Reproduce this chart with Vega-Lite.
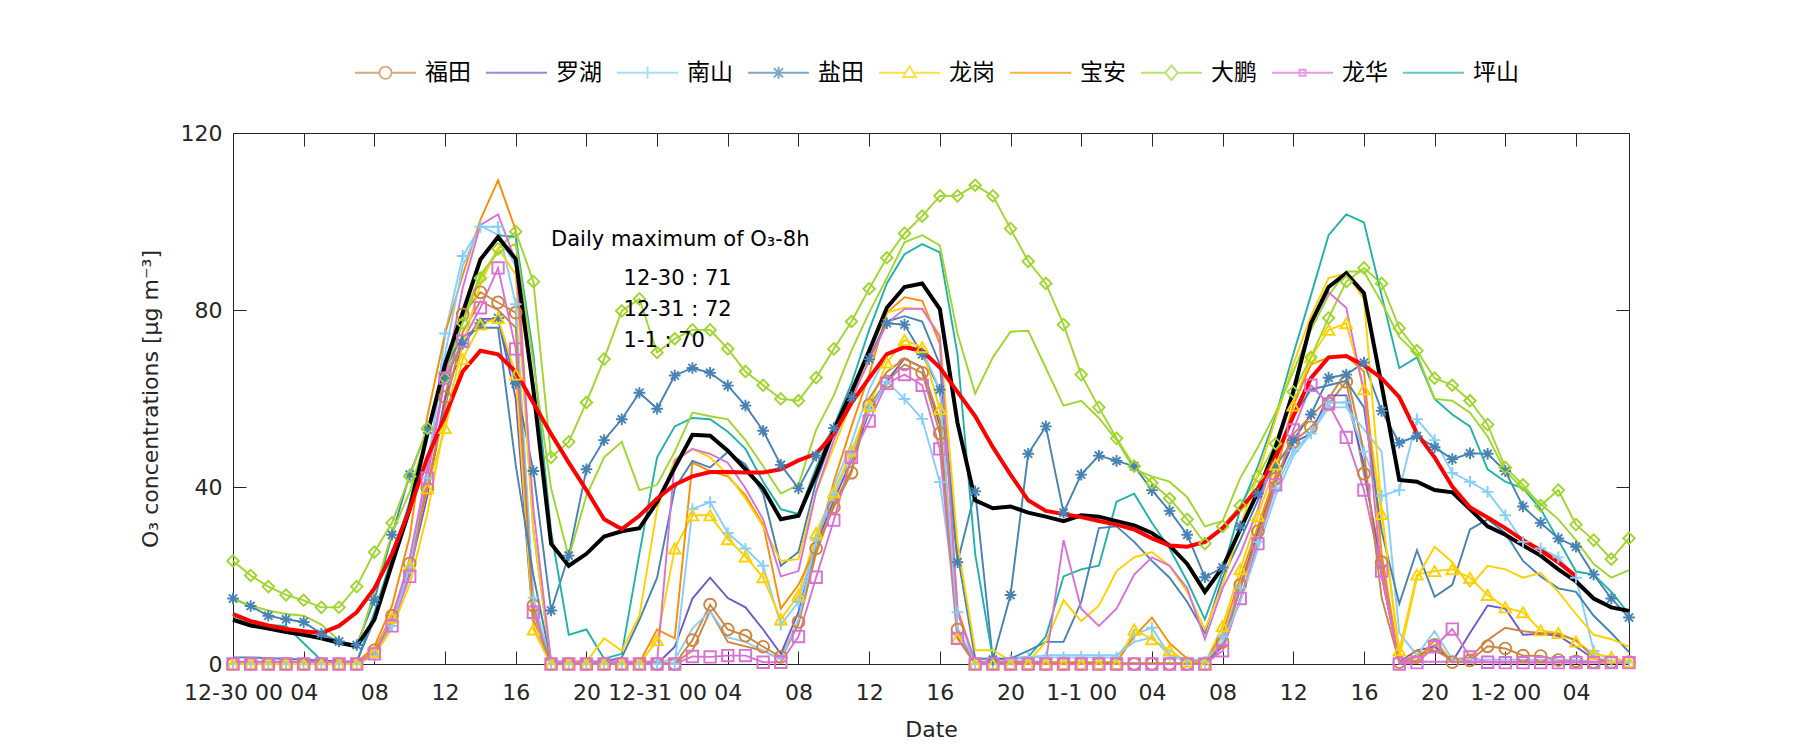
{
  "$schema": "https://vega.github.io/schema/vega-lite/v6.json",
  "width": 1396,
  "height": 531,
  "autosize": {"type": "none"},
  "padding": {"left": 233, "top": 133, "right": 171, "bottom": 86},
  "background": "white",
  "config": {
    "view": {"stroke": "#262626", "strokeWidth": 1},
    "font": "DejaVu Sans",
    "axis": {"labelFont": "DejaVu Sans", "labelFontSize": 22, "labelColor": "#262626", "titleFont": "DejaVu Sans", "titleFontSize": 22, "titleFontWeight": "normal", "titleColor": "#262626", "domain": false, "grid": false, "tickColor": "#262626", "tickSize": -13, "tickWidth": 1, "labelFlush": false, "labelOverlap": false, "labelBound": false}
  },
  "data": {"values": [
    {"h":0,"福田":0,"罗湖":0,"南山":0,"盐田":14.8,"龙岗":0,"宝安":0.3,"大鹏":23.3,"龙华":0,"坪山":10.9,"福田2":0.2,"南山2":0.5,"盐田2":1.5,"龙岗2":0,"大鹏2":14.8,"龙华2":0.5,"平均":10,"O3_8h":11.3},
    {"h":1,"福田":0,"罗湖":0,"南山":0,"盐田":13.1,"龙岗":0,"宝安":0.3,"大鹏":20,"龙华":0,"坪山":9.3,"福田2":0.2,"南山2":0.5,"盐田2":1.5,"龙岗2":0,"大鹏2":13.2,"龙华2":0.5,"平均":8.7,"O3_8h":9.7},
    {"h":2,"福田":0,"罗湖":0,"南山":0,"盐田":10.9,"龙岗":0,"宝安":0.3,"大鹏":17.5,"龙华":0,"坪山":8.8,"福田2":0.2,"南山2":0.5,"盐田2":1.3,"龙岗2":0,"大鹏2":12.1,"龙华2":0.5,"平均":8,"O3_8h":8.7},
    {"h":3,"福田":0,"罗湖":0,"南山":0,"盐田":10.1,"龙岗":0,"宝安":0.3,"大鹏":15.6,"龙华":0,"坪山":8.6,"福田2":0.2,"南山2":0.5,"盐田2":1.2,"龙岗2":0,"大鹏2":11.3,"龙华2":0.5,"平均":7.2,"O3_8h":7.9},
    {"h":4,"福田":0,"罗湖":0,"南山":0,"盐田":9.5,"龙岗":0,"宝安":0.3,"大鹏":14.4,"龙华":0,"坪山":4.7,"福田2":0.2,"南山2":0.5,"盐田2":1,"龙岗2":0,"大鹏2":10.9,"龙华2":0.5,"平均":6.6,"O3_8h":7.4},
    {"h":5,"福田":0,"罗湖":0,"南山":0,"盐田":6.8,"龙岗":0,"宝安":0.3,"大鹏":12.8,"龙华":0,"坪山":0.8,"福田2":0.2,"南山2":0.5,"盐田2":0.8,"龙岗2":0,"大鹏2":8.9,"龙华2":0.5,"平均":5.8,"O3_8h":7},
    {"h":6,"福田":0,"罗湖":0,"南山":0,"盐田":5.1,"龙岗":0,"宝安":0.3,"大鹏":12.8,"龙华":0,"坪山":0.4,"福田2":0.2,"南山2":0.5,"盐田2":0.6,"龙岗2":0,"大鹏2":5.4,"龙华2":0.5,"平均":4.8,"O3_8h":8.6},
    {"h":7,"福田":0,"罗湖":0,"南山":0,"盐田":4.3,"龙岗":0,"宝安":0.3,"大鹏":17.5,"龙华":0,"坪山":0.4,"福田2":0.2,"南山2":0.5,"盐田2":0.5,"龙岗2":0,"大鹏2":3.5,"龙华2":0.5,"平均":4,"O3_8h":11.7},
    {"h":8,"福田":3.1,"罗湖":2,"南山":1.9,"盐田":14.4,"龙岗":2.7,"宝安":3.9,"大鹏":25.3,"龙华":2.3,"坪山":11.7,"福田2":2.5,"南山2":2,"盐田2":10,"龙岗2":2,"大鹏2":16.3,"龙华2":2,"平均":10,"O3_8h":17.1},
    {"h":9,"福田":10.9,"罗湖":9,"南山":8.6,"盐田":29.2,"龙岗":10.5,"宝安":13.2,"大鹏":31.9,"龙华":8.6,"坪山":24.1,"福田2":10,"南山2":9,"盐田2":22.6,"龙岗2":8,"大鹏2":29.6,"龙华2":10,"平均":22.6,"O3_8h":24.9},
    {"h":10,"福田":22.7,"罗湖":21,"南山":21.8,"盐田":42.8,"龙岗":22.2,"宝安":28.8,"大鹏":42.4,"龙华":19.8,"坪山":36.6,"福田2":22,"南山2":22,"盐田2":36.6,"龙岗2":18,"大鹏2":38.9,"龙华2":24,"平均":35,"O3_8h":35},
    {"h":11,"福田":39.7,"罗湖":38,"南山":42,"盐田":53,"龙岗":39.7,"宝安":56,"大鹏":53.3,"龙华":42,"坪山":52.9,"福田2":40,"南山2":45,"盐田2":52,"龙岗2":34,"大鹏2":52.1,"龙华2":44,"平均":52,"O3_8h":46.7},
    {"h":12,"福田":60.3,"罗湖":60,"南山":74.7,"盐田":64.6,"龙岗":53.3,"宝安":74.7,"大鹏":64.6,"龙华":64.6,"坪山":67.7,"福田2":58,"南山2":70,"盐田2":67,"龙岗2":55,"大鹏2":66.1,"龙华2":65,"平均":67.7,"O3_8h":56},
    {"h":13,"福田":79,"罗湖":72,"南山":92.2,"盐田":72.4,"龙岗":68.9,"宝安":87.9,"大鹏":77,"龙华":73,"坪山":79.4,"福田2":75,"南山2":90,"盐田2":74,"龙岗2":72,"大鹏2":78,"龙华2":85,"平均":79.4,"O3_8h":66.1},
    {"h":14,"福田":84,"罗湖":78,"南山":98.8,"盐田":77,"龙岗":76.7,"宝安":100.4,"大鹏":87.2,"龙华":80.5,"坪山":91,"福田2":82,"南山2":99,"盐田2":76,"龙岗2":86,"大鹏2":88,"龙华2":99.2,"平均":91.4,"O3_8h":70.8},
    {"h":15,"福田":81.7,"罗湖":78,"南山":98.8,"盐田":78.2,"龙岗":78.2,"宝安":109.3,"大鹏":93.8,"龙华":89.5,"坪山":96.9,"福田2":80,"南山2":97,"盐田2":76,"龙岗2":94,"大鹏2":93,"龙华2":101.6,"平均":96.5,"O3_8h":70},
    {"h":16,"福田":79.4,"罗湖":60,"南山":81.3,"盐田":63.4,"龙岗":65.4,"宝安":98,"大鹏":97.7,"龙华":71.2,"坪山":96.5,"福田2":76,"南山2":90,"盐田2":45,"龙岗2":88,"大鹏2":95,"龙华2":91,"平均":91.5,"O3_8h":66},
    {"h":17,"福田":13.2,"罗湖":8,"南山":15,"盐田":43.6,"龙岗":7.8,"宝安":30,"大鹏":86.4,"龙华":11.7,"坪山":70,"福田2":10,"南山2":30,"盐田2":20,"龙岗2":30,"大鹏2":68,"龙华2":35,"平均":62,"O3_8h":59},
    {"h":18,"福田":0,"罗湖":0,"南山":0,"盐田":12.1,"龙岗":0,"宝安":0.3,"大鹏":46.7,"龙华":0,"坪山":30,"福田2":0.2,"南山2":0.5,"盐田2":0.5,"龙岗2":0.5,"大鹏2":39.7,"龙华2":0.5,"平均":27.2,"O3_8h":52},
    {"h":19,"福田":0,"罗湖":0,"南山":0,"盐田":24.5,"龙岗":0,"宝安":0.3,"大鹏":50.2,"龙华":0,"坪山":6.6,"福田2":0.2,"南山2":0.5,"盐田2":0.5,"龙岗2":0.5,"大鹏2":24.1,"龙华2":0.5,"平均":22.2,"O3_8h":45.5},
    {"h":20,"福田":0,"罗湖":0,"南山":0,"盐田":44,"龙岗":0,"宝安":0.3,"大鹏":59.1,"龙华":0,"坪山":7.8,"福田2":0.2,"南山2":0.5,"盐田2":0.5,"龙岗2":0.5,"大鹏2":38,"龙华2":0.5,"平均":24.9,"O3_8h":39.3},
    {"h":21,"福田":0,"罗湖":0,"南山":0,"盐田":50.6,"龙岗":0,"宝安":0.3,"大鹏":68.9,"龙华":0,"坪山":1.2,"福田2":0.2,"南山2":0.5,"盐田2":0.5,"龙岗2":5.8,"大鹏2":46.7,"龙华2":0.5,"平均":28.8,"O3_8h":32.7},
    {"h":22,"福田":0,"罗湖":0,"南山":0,"盐田":55.3,"龙岗":0,"宝安":0.3,"大鹏":79.8,"龙华":0,"坪山":2.3,"福田2":0.2,"南山2":0.5,"盐田2":1.5,"龙岗2":3,"大鹏2":50.2,"龙华2":0.5,"平均":30,"O3_8h":30.5},
    {"h":23,"福田":0,"罗湖":0,"南山":0,"盐田":61.3,"龙岗":0,"宝安":0.3,"大鹏":82.5,"龙华":0,"坪山":25,"福田2":0.2,"南山2":0.5,"盐田2":10,"龙岗2":10.9,"大鹏2":39.3,"龙华2":0.5,"平均":30.7,"O3_8h":33.5},
    {"h":24,"福田":0,"罗湖":0,"南山":0,"盐田":57.7,"龙岗":5.4,"宝安":7.8,"大鹏":70.4,"龙华":0,"坪山":46.7,"福田2":0.2,"南山2":0.5,"盐田2":19.5,"龙岗2":35,"大鹏2":40.5,"龙华2":0.5,"平均":36.6,"O3_8h":37.4},
    {"h":25,"福田":0,"罗湖":3.9,"南山":0,"盐田":65.2,"龙岗":26.1,"宝安":5.8,"大鹏":73.5,"龙华":0,"坪山":53.7,"福田2":0.2,"南山2":1,"盐田2":39.7,"龙岗2":46.3,"大鹏2":48,"龙华2":45.9,"平均":44.4,"O3_8h":40.5},
    {"h":26,"福田":5.4,"罗湖":14.8,"南山":35,"盐田":66.9,"龙岗":33.6,"宝安":45.5,"大鹏":75.5,"龙华":1.7,"坪山":55.6,"福田2":3,"南山2":8,"盐田2":45.9,"龙岗2":48.6,"大鹏2":56.8,"龙华2":48.6,"平均":51.8,"O3_8h":42.4},
    {"h":27,"福田":13.4,"罗湖":19.5,"南山":36.6,"盐田":65.8,"龙岗":33.6,"宝安":43.6,"大鹏":75.5,"龙华":1.6,"坪山":55.3,"福田2":12,"南山2":12,"盐田2":44.4,"龙岗2":46.7,"大鹏2":56,"龙华2":47.5,"平均":51.6,"O3_8h":43.4},
    {"h":28,"福田":7.8,"罗湖":14.9,"南山":29.6,"盐田":62.9,"龙岗":28.2,"宝安":42.4,"大鹏":71.2,"龙华":1.9,"坪山":52.5,"福田2":5,"南山2":6,"盐田2":47.9,"龙岗2":42.8,"大鹏2":55.3,"龙华2":45.5,"平均":48.2,"O3_8h":43.4},
    {"h":29,"福田":6.4,"罗湖":12.8,"南山":26.1,"盐田":58.4,"龙岗":24.3,"宝安":38.1,"大鹏":66.1,"龙华":1.9,"坪山":48.6,"福田2":4,"南山2":5,"盐田2":45.1,"龙岗2":37.4,"大鹏2":50.6,"龙华2":39.7,"平均":44,"O3_8h":43.3},
    {"h":30,"福田":3.9,"罗湖":7.8,"南山":22.2,"盐田":52.7,"龙岗":19.6,"宝安":31.5,"大鹏":63,"龙华":0.4,"坪山":41.2,"福田2":3,"南山2":3,"盐田2":38.5,"龙岗2":31.1,"大鹏2":44.7,"龙华2":32.7,"平均":39.7,"O3_8h":43.3},
    {"h":31,"福田":1.6,"罗湖":2.3,"南山":8.9,"盐田":45,"龙岗":10.1,"宝安":12.5,"大鹏":59.9,"龙华":0.4,"坪山":35,"福田2":1,"南山2":1,"盐田2":22.2,"龙岗2":23.3,"大鹏2":38.5,"龙华2":19.8,"平均":32.7,"O3_8h":44},
    {"h":32,"福田":9.5,"罗湖":11.7,"南山":14,"盐田":39.7,"龙岗":15.6,"宝安":17.9,"大鹏":59.5,"龙华":6.2,"坪山":33.9,"福田2":9,"南山2":10,"盐田2":25.3,"龙岗2":23.7,"大鹏2":40.5,"龙华2":21,"平均":33.5,"O3_8h":46},
    {"h":33,"福田":26.1,"罗湖":27,"南山":28,"盐田":47.1,"龙岗":29.6,"宝安":26.5,"大鹏":64.7,"龙华":19.6,"坪山":44.4,"福田2":25,"南山2":28,"盐田2":41.2,"龙岗2":38.9,"大鹏2":52.9,"龙华2":38.9,"平均":42.8,"O3_8h":47.5},
    {"h":34,"福田":35.4,"罗湖":37,"南山":38.1,"盐田":53.3,"龙岗":38.8,"宝安":41.2,"大鹏":71.2,"龙华":32.5,"坪山":53.7,"福田2":36,"南山2":40,"盐田2":52.1,"龙岗2":49,"大鹏2":60.7,"龙华2":50.6,"平均":52.9,"O3_8h":52},
    {"h":35,"福田":43.2,"罗湖":46,"南山":47.5,"盐田":60.3,"龙岗":48.2,"宝安":53.7,"大鹏":77.4,"龙华":46.7,"坪山":63.4,"福田2":44,"南山2":50,"盐田2":61.5,"龙岗2":59.1,"大鹏2":70.8,"龙华2":59.9,"平均":61.5,"O3_8h":59},
    {"h":36,"福田":58.5,"罗湖":57,"南山":57.6,"盐田":68.9,"龙岗":58.4,"宝安":65.4,"大鹏":84.8,"龙华":54.9,"坪山":75.5,"福田2":60,"南山2":62,"盐田2":69.3,"龙岗2":70,"大鹏2":79.4,"龙华2":68.5,"平均":70.8,"O3_8h":64.6},
    {"h":37,"福田":63.8,"罗湖":64,"南山":63.8,"盐田":77,"龙岗":68.1,"宝安":79.4,"大鹏":91.8,"龙华":63.4,"坪山":86,"福田2":66,"南山2":70,"盐田2":77.4,"龙岗2":79.4,"大鹏2":87.2,"龙华2":77,"平均":80.5,"O3_8h":70},
    {"h":38,"福田":67.7,"罗湖":69,"南山":59.9,"盐田":76.7,"龙岗":73.2,"宝安":82.9,"大鹏":97.3,"龙华":65.4,"坪山":92.6,"福田2":69,"南山2":72,"盐田2":78.6,"龙岗2":80.5,"大鹏2":95.3,"龙华2":80.2,"平均":85.2,"O3_8h":71.6},
    {"h":39,"福田":65.8,"罗湖":67,"南山":55.4,"盐田":70,"龙岗":71.6,"宝安":82.1,"大鹏":101.2,"龙华":63,"坪山":94.9,"福田2":67,"南山2":71,"盐田2":77.4,"龙岗2":80.2,"大鹏2":96.9,"龙华2":80.3,"平均":86,"O3_8h":70.8},
    {"h":40,"福田":52.1,"罗湖":54,"南山":41.1,"盐田":62,"龙岗":57.6,"宝安":72.4,"大鹏":105.8,"龙华":48.6,"坪山":93,"福田2":55,"南山2":62,"盐田2":67.7,"龙岗2":74.3,"大鹏2":94.6,"龙华2":73.9,"平均":80.2,"O3_8h":67},
    {"h":41,"福田":7.8,"罗湖":8,"南山":11.7,"盐田":23,"龙岗":5.8,"宝安":12.5,"大鹏":105.8,"龙华":5.8,"坪山":70,"福田2":6,"南山2":8,"盐田2":24.9,"龙岗2":27.2,"大鹏2":74.7,"龙华2":11.7,"平均":54.5,"O3_8h":61.5},
    {"h":42,"福田":0,"罗湖":0,"南山":0,"盐田":39,"龙岗":0,"宝安":0.4,"大鹏":108.2,"龙华":0,"坪山":24.9,"福田2":0.2,"南山2":0.5,"盐田2":1.2,"龙岗2":3.1,"大鹏2":61.1,"龙华2":0.5,"平均":37,"O3_8h":56},
    {"h":43,"福田":0,"罗湖":0,"南山":0,"盐田":1,"龙岗":0,"宝安":0.4,"大鹏":105.8,"龙华":0,"坪山":1.2,"福田2":0.2,"南山2":0.5,"盐田2":1.2,"龙岗2":3.1,"大鹏2":69.3,"龙华2":0.5,"平均":35.2,"O3_8h":49},
    {"h":44,"福田":0,"罗湖":0,"南山":1,"盐田":15.6,"龙岗":0,"宝安":0.4,"大鹏":98.4,"龙华":0,"坪山":1.2,"福田2":0.2,"南山2":1.5,"盐田2":1.2,"龙岗2":0.8,"大鹏2":75.1,"龙华2":0.5,"平均":35.6,"O3_8h":42.8},
    {"h":45,"福田":0,"罗湖":0,"南山":1.5,"盐田":47.5,"龙岗":0,"宝安":0.4,"大鹏":91,"龙华":0,"坪山":1.6,"福田2":0.2,"南山2":1.5,"盐田2":3,"龙岗2":0.5,"大鹏2":75.3,"龙华2":0.5,"平均":34.2,"O3_8h":37},
    {"h":46,"福田":0,"罗湖":0,"南山":1.5,"盐田":53.7,"龙岗":0,"宝安":0.4,"大鹏":86,"龙华":0,"坪山":6.2,"福田2":0.2,"南山2":2,"盐田2":5,"龙岗2":5,"大鹏2":66.9,"龙华2":0.5,"平均":33.3,"O3_8h":34.6},
    {"h":47,"福田":0,"罗湖":0,"南山":1.5,"盐田":34.2,"龙岗":0,"宝安":0.4,"大鹏":76.7,"龙华":0,"坪山":19.8,"福田2":0.2,"南山2":2,"盐田2":5,"龙岗2":14.4,"大鹏2":58.4,"龙华2":28,"平均":32.3,"O3_8h":33.9},
    {"h":48,"福田":0,"罗湖":0,"南山":1.5,"盐田":42.8,"龙岗":0,"宝安":0.4,"大鹏":65.4,"龙华":0,"坪山":21.4,"福田2":0.2,"南山2":2,"盐田2":14,"龙岗2":9.7,"大鹏2":59.5,"龙华2":12.5,"平均":33.6,"O3_8h":33.2},
    {"h":49,"福田":0,"罗湖":0,"南山":1.5,"盐田":47.1,"龙岗":0,"宝安":0.4,"大鹏":58,"龙华":0,"坪山":22.2,"福田2":0.2,"南山2":2,"盐田2":30.7,"龙岗2":13.2,"大鹏2":55.6,"龙华2":8.6,"平均":33.3,"O3_8h":32.3},
    {"h":50,"福田":0,"罗湖":0,"南山":1.5,"盐田":45.9,"龙岗":0,"宝安":0.4,"大鹏":51,"龙华":0,"坪山":36.7,"福田2":0.2,"南山2":2,"盐田2":31.1,"龙岗2":21,"大鹏2":50.6,"龙华2":12.5,"平均":32.3,"O3_8h":31.5},
    {"h":51,"福田":0,"罗湖":0,"南山":6.6,"盐田":44.7,"龙岗":7.8,"宝安":6.2,"大鹏":44.7,"龙华":0,"坪山":38.5,"福田2":0.2,"南山2":5,"盐田2":27.6,"龙岗2":24.1,"大鹏2":44,"龙华2":20.2,"平均":31.3,"O3_8h":30.4},
    {"h":52,"福田":0,"罗湖":0,"南山":8.2,"盐田":39.3,"龙岗":5.6,"宝安":10.5,"大鹏":40.9,"龙华":0,"坪山":31.9,"福田2":0.2,"南山2":6,"盐田2":23.3,"龙岗2":25.3,"大鹏2":42.4,"龙华2":24.1,"平均":29.6,"O3_8h":28.4},
    {"h":53,"福田":0,"罗湖":0,"南山":1.9,"盐田":34.6,"龙岗":3.1,"宝安":4.7,"大鹏":37.4,"龙华":0,"坪山":26.1,"福田2":0.2,"南山2":2,"盐田2":19.5,"龙岗2":22.2,"大鹏2":41.2,"龙华2":22.2,"平均":26.8,"O3_8h":26.8},
    {"h":54,"福田":0,"罗湖":0,"南山":0.5,"盐田":29.2,"龙岗":0.5,"宝安":1.2,"大鹏":32.7,"龙华":0,"坪山":18.7,"福田2":0.2,"南山2":1,"盐田2":14,"龙岗2":16.3,"大鹏2":37.7,"龙华2":17.1,"平均":22.6,"O3_8h":26.5},
    {"h":55,"福田":0,"罗湖":0,"南山":0.5,"盐田":19.6,"龙岗":0,"宝安":0.3,"大鹏":27.2,"龙华":0,"坪山":10.1,"福田2":0.2,"南山2":1,"盐田2":7,"龙岗2":7.8,"大鹏2":31.1,"龙华2":5.6,"平均":16.3,"O3_8h":27.6},
    {"h":56,"福田":5,"罗湖":4,"南山":6.2,"盐田":21.8,"龙岗":8.6,"宝安":7,"大鹏":31.1,"龙华":3,"坪山":21,"福田2":4.5,"南山2":5,"盐田2":19.5,"龙岗2":17.9,"大鹏2":32.3,"龙华2":17.1,"平均":21.8,"O3_8h":30.7},
    {"h":57,"福田":17.9,"罗湖":17,"南山":17.1,"盐田":31.1,"龙岗":21.4,"宝安":19.5,"大鹏":35.8,"龙华":14.8,"坪山":35,"福田2":17,"南山2":14,"盐田2":28,"龙岗2":31.1,"大鹏2":42,"龙华2":24.9,"平均":30.4,"O3_8h":35},
    {"h":58,"福田":30,"罗湖":30,"南山":27.6,"盐田":38.5,"龙岗":33.5,"宝安":31.1,"大鹏":42.4,"龙华":27.2,"坪山":44.7,"福田2":29,"南山2":26,"盐田2":37,"龙岗2":42.8,"大鹏2":49,"龙华2":35,"平均":38.9,"O3_8h":39.7},
    {"h":59,"福田":41.9,"罗湖":41,"南山":39.7,"盐田":44.7,"龙岗":45.1,"宝安":42.8,"大鹏":49.8,"龙华":40.5,"坪山":56,"福田2":41,"南山2":38,"盐田2":46,"龙岗2":55.3,"大鹏2":56.8,"龙华2":48.2,"平均":49,"O3_8h":46.7},
    {"h":60,"福田":50.2,"罗湖":50,"南山":48.2,"盐田":50.6,"龙岗":58.4,"宝安":58.4,"大鹏":61.5,"龙华":52.9,"坪山":70,"福田2":52,"南山2":47,"盐田2":56,"龙岗2":67.7,"大鹏2":66.1,"龙华2":62.6,"平均":61.5,"O3_8h":56},
    {"h":61,"福田":53.5,"罗湖":52,"南山":52.1,"盐田":56.4,"龙岗":69.3,"宝安":67.7,"大鹏":69.3,"龙华":63,"坪山":83.3,"福田2":56,"南山2":52,"盐田2":62,"龙岗2":78.6,"大鹏2":75.5,"龙华2":77,"平均":77,"O3_8h":64.6},
    {"h":62,"福田":58.8,"罗湖":60.7,"南山":59.1,"盐田":64.7,"龙岗":75.5,"宝安":69.3,"大鹏":78.2,"龙华":58.8,"坪山":96.9,"福田2":60,"南山2":58,"盐田2":63,"龙岗2":87.2,"大鹏2":83.3,"龙华2":84,"平均":85.2,"O3_8h":69.3},
    {"h":63,"福田":63.8,"罗湖":60.7,"南山":59.1,"盐田":65.4,"龙岗":77,"宝安":69.6,"大鹏":86.4,"龙华":51.2,"坪山":101.6,"福田2":66,"南山2":58,"盐田2":64,"龙岗2":88.3,"大鹏2":88.7,"龙华2":80.5,"平均":88.3,"O3_8h":69.6},
    {"h":64,"福田":43,"罗湖":45,"南山":48,"盐田":68.1,"龙岗":62.1,"宝安":66.1,"大鹏":89.5,"龙华":39.3,"坪山":99.8,"福田2":48,"南山2":53,"盐田2":58,"龙岗2":82.5,"大鹏2":88.7,"龙华2":61.5,"平均":83.8,"O3_8h":67.5},
    {"h":65,"福田":23,"罗湖":20,"南山":38,"盐田":57.2,"龙岗":33.9,"宝安":25,"大鹏":86,"龙华":21,"坪山":83.3,"福田2":15,"南山2":48,"盐田2":30,"龙岗2":35,"大鹏2":81.7,"龙华2":20,"平均":63,"O3_8h":64.6},
    {"h":66,"福田":0.4,"罗湖":0.5,"南山":39.3,"盐田":50,"龙岗":3.1,"宝安":0.4,"大鹏":75.9,"龙华":0,"坪山":66.9,"福田2":0.4,"南山2":7,"盐田2":13.6,"龙岗2":1.5,"大鹏2":73.9,"龙华2":0.5,"平均":41.6,"O3_8h":60.3},
    {"h":67,"福田":1.6,"罗湖":3.1,"南山":55.3,"盐田":51.5,"龙岗":20.2,"宝安":0.8,"大鹏":70.8,"龙华":0.3,"坪山":69.3,"福田2":2,"南山2":2,"盐田2":25.7,"龙岗2":19.5,"大鹏2":70,"龙华2":0.5,"平均":41.2,"O3_8h":52.1},
    {"h":68,"福田":4.3,"罗湖":3.9,"南山":50.6,"盐田":49,"龙岗":21,"宝安":5.4,"大鹏":64.6,"龙华":3.9,"坪山":59.9,"福田2":3,"南山2":7.4,"盐田2":15.2,"龙岗2":26.5,"大鹏2":59.9,"龙华2":0.5,"平均":39.3,"O3_8h":46.7},
    {"h":69,"福田":0.4,"罗湖":0.5,"南山":43.2,"盐田":46.3,"龙岗":21.4,"宝安":0.4,"大鹏":63,"龙华":7.9,"坪山":56.4,"福田2":1,"南山2":1,"盐田2":17.9,"龙岗2":23,"大鹏2":59.5,"龙华2":0.5,"平均":38.8,"O3_8h":40.1},
    {"h":70,"福田":0.8,"罗湖":7,"南山":41.2,"盐田":47.6,"龙岗":19.5,"宝安":0.4,"大鹏":59.5,"龙华":1.6,"坪山":53.7,"福田2":1.5,"南山2":1,"盐田2":30.4,"龙岗2":17.5,"大鹏2":56.8,"龙华2":0.5,"平均":35,"O3_8h":35.4},
    {"h":71,"福田":4,"罗湖":13.2,"南山":38.9,"盐田":47.5,"龙岗":15.6,"宝安":0.4,"大鹏":54.1,"龙华":0.4,"坪山":44,"福田2":5.4,"南山2":1,"盐田2":32.7,"龙岗2":22.2,"大鹏2":51.4,"龙华2":0.5,"平均":31.1,"O3_8h":33.1},
    {"h":72,"福田":3.5,"罗湖":12.5,"南山":33.6,"盐田":43.6,"龙岗":12.8,"宝安":0.4,"大鹏":44.4,"龙华":0.3,"坪山":41.2,"福田2":8.2,"南山2":1,"盐田2":29.6,"龙岗2":21.4,"大鹏2":43.6,"龙华2":0.5,"平均":29.2,"O3_8h":30.7},
    {"h":73,"福田":1.9,"罗湖":6.6,"南山":27.6,"盐田":35.6,"龙岗":11.7,"宝安":0.4,"大鹏":40.5,"龙华":0.3,"坪山":39.7,"福田2":7.4,"南山2":1,"盐田2":23.3,"龙岗2":19.5,"大鹏2":39.7,"龙华2":0.5,"平均":26.8,"O3_8h":28},
    {"h":74,"福田":1.8,"罗湖":6.8,"南山":26.1,"盐田":31.9,"龙岗":7.6,"宝安":0.4,"大鹏":35.8,"龙华":0.3,"坪山":35,"福田2":7,"南山2":1,"盐田2":19.8,"龙岗2":20.6,"大鹏2":36.2,"龙华2":0.5,"平均":24.5,"O3_8h":25.7},
    {"h":75,"福田":0.9,"罗湖":6.4,"南山":24.1,"盐田":28.4,"龙岗":7,"宝安":0.4,"大鹏":39.3,"龙华":0.3,"坪山":28,"福田2":6.8,"南山2":1,"盐田2":17.1,"龙岗2":16.3,"大鹏2":32.7,"龙华2":0.5,"平均":21.4,"O3_8h":23},
    {"h":76,"福田":0.6,"罗湖":3.9,"南山":19.5,"盐田":26.5,"龙岗":5.1,"宝安":0.4,"大鹏":31.5,"龙华":0.3,"坪山":20.9,"福田2":5.4,"南山2":1,"盐田2":16.3,"龙岗2":11.3,"大鹏2":28,"龙华2":0.5,"平均":18.7,"O3_8h":19.8},
    {"h":77,"福田":0.4,"罗湖":1.2,"南山":3,"盐田":20.2,"龙岗":2.3,"宝安":0.4,"大鹏":28,"龙华":0.3,"坪山":20.2,"福田2":1.5,"南山2":0.5,"盐田2":10.9,"龙岗2":6.6,"大鹏2":22.6,"龙华2":0.5,"平均":14.8},
    {"h":78,"福田":0.4,"罗湖":0.4,"南山":0.5,"盐田":14.8,"龙岗":1.6,"宝安":0.4,"大鹏":23.7,"龙华":0.3,"坪山":16.3,"福田2":0.4,"南山2":0.5,"盐田2":7,"龙岗2":5.6,"大鹏2":19.5,"龙华2":0.5,"平均":12.8},
    {"h":79,"福田":0.4,"罗湖":0.4,"南山":0.5,"盐田":10.5,"龙岗":0.4,"宝安":0.4,"大鹏":28.4,"龙华":0.3,"坪山":11.3,"福田2":0.4,"南山2":0.5,"盐田2":2.7,"龙岗2":3.9,"大鹏2":21.2,"龙华2":0.5,"平均":12}
  ]},
  "transform": [
    {"fold": ["福田","罗湖","南山","盐田","龙岗","宝安","大鹏","龙华","坪山","福田2","南山2","盐田2","龙岗2","大鹏2","龙华2","平均","O3_8h"], "as": ["series", "v"]}
  ],
  "layer": [
    {
      "transform": [{"filter": {"field": "series", "oneOf": ["福田","罗湖","南山","盐田","龙岗","宝安","大鹏","龙华","坪山","福田2","南山2","盐田2","龙岗2","大鹏2","龙华2"]}}],
      "mark": {"type": "line", "strokeWidth": 1.9},
      "encoding": {
        "x": {"field": "h", "type": "quantitative", "scale": {"domain": [0, 79], "nice": false, "zero": false},
              "axis": {"orient": "bottom", "values": [0,4,8,12,16,20,24,28,32,36,40,44,48,52,56,60,64,68,72,76],
                       "labelExpr": "datum.value == 0 ? '12-30 00' : datum.value == 24 ? '12-31 00' : datum.value == 48 ? '1-1 00' : datum.value == 72 ? '1-2 00' : ((datum.value % 24) < 10 ? '0' + (datum.value % 24) : '' + (datum.value % 24))",
                       "labelPadding": 31, "title": "Date", "titlePadding": 16}},
        "y": {"field": "v", "type": "quantitative", "scale": {"domain": [0, 120], "nice": false},
              "axis": {"orient": "left", "values": [0, 40, 80, 120], "labelPadding": 24, "title": "O₃ concentrations [μg m⁻³]", "titlePadding": 18}},
        "color": {"field": "series", "type": "nominal",
                  "scale": {"domain": ["福田","罗湖","南山","盐田","龙岗","宝安","大鹏","龙华","坪山","福田2","南山2","盐田2","龙岗2","大鹏2","龙华2","平均","O3_8h"],
                            "range": ["#CD853F","#6A5ACD","#87CEFA","#4682B4","#FFD100","#FF8C00","#9FD62E","#DA70D6","#20B2AA","#CD853F","#87CEFA","#4682B4","#FFD100","#9FD62E","#DA70D6","#000000","#FF0000"]},
                  "legend": null}
      }
    },
    {
      "transform": [{"filter": {"field": "series", "oneOf": ["平均","O3_8h"]}}],
      "mark": {"type": "line", "strokeWidth": 4},
      "encoding": {
        "x": {"field": "h", "type": "quantitative", "scale": {"domain": [0, 79], "nice": false, "zero": false}, "axis": null},
        "y": {"field": "v", "type": "quantitative", "scale": {"domain": [0, 120], "nice": false}, "axis": null},
        "color": {"field": "series", "type": "nominal",
                  "scale": {"domain": ["平均","O3_8h"], "range": ["#000000","#FF0000"]},
                  "legend": null}
      }
    },
    {
      "transform": [{"filter": {"field": "series", "oneOf": ["福田","南山","盐田","龙岗","大鹏","龙华"]}}],
      "mark": {"type": "point", "filled": false, "strokeWidth": 1.9, "opacity": 1},
      "encoding": {
        "x": {"field": "h", "type": "quantitative", "scale": {"domain": [0, 79], "nice": false, "zero": false}, "axis": null},
        "y": {"field": "v", "type": "quantitative", "scale": {"domain": [0, 120], "nice": false}, "axis": null},
        "color": {"field": "series", "type": "nominal",
                  "scale": {"domain": ["福田","南山","盐田","龙岗","大鹏","龙华"], "range": ["#CD853F","#87CEFA","#4682B4","#FFD100","#9FD62E","#DA70D6"]},
                  "legend": null},
        "shape": {"field": "series", "type": "nominal",
                  "scale": {"domain": ["福田","南山","盐田","龙岗","大鹏","龙华"],
                            "range": ["circle", "M-1,0H1M0,-1V1", "M-1,0H1M0,-1V1M-0.7,-0.7L0.7,0.7M-0.7,0.7L0.7,-0.7", "triangle-up", "diamond", "square"]},
                  "legend": null},
        "size": {"field": "series", "type": "nominal",
                 "scale": {"domain": ["福田","南山","盐田","龙岗","大鹏","龙华"], "range": [140, 130, 120, 120, 200, 50]},
                 "legend": null}
      }
    },
    {
      "transform": [{"filter": "datum.h < 0"}],
      "mark": {"type": "point", "filled": false, "strokeWidth": 1.9, "size": 3721},
      "encoding": {
        "color": {"field": "series", "type": "nominal",
                  "scale": {"domain": ["福田","罗湖","南山","盐田","龙岗","宝安","大鹏","龙华","坪山"],
                            "range": ["#CD853F","#6A5ACD","#87CEFA","#4682B4","#FFD100","#FF8C00","#9FD62E","#DA70D6","#20B2AA"]},
                  "legend": {"orient": "none", "legendX": 121, "legendY": -92, "direction": "horizontal", "columns": 9, "title": null,
                             "values": ["福田","罗湖","南山","盐田","龙岗","宝安","大鹏","龙华","坪山"],
                             "labelFont": "Noto Sans CJK SC", "labelFontSize": 23, "labelColor": "#000000", "symbolSize": 3721, "symbolStrokeWidth": 1.9,
                             "columnPadding": 11, "labelOffset": 8, "padding": 0, "symbolFillColor": "transparent"}},
        "shape": {"field": "series", "type": "nominal",
                  "scale": {"domain": ["福田","罗湖","南山","盐田","龙岗","宝安","大鹏","龙华","坪山"],
                            "range": [
                              "M-1,0H-0.2M0.2,0H1M0.2,0A0.2,0.2 0 1 1 -0.2,0A0.2,0.2 0 1 1 0.2,0",
                              "M-1,0H1",
                              "M-1,0H1M0,-0.2V0.2",
                              "M-1,0H1M0,-0.2V0.2M-0.15,-0.15L0.15,0.15M-0.15,0.15L0.15,-0.15",
                              "M-1,0H-0.15M0.15,0H1M0,-0.22L0.21,0.14L-0.21,0.14Z",
                              "M-1,0H1",
                              "M-1,0H-0.2M0.2,0H1M0,-0.24L0.2,0L0,0.24L-0.2,0Z",
                              "M-1,0H1M-0.1,-0.1H0.1V0.1H-0.1Z",
                              "M-1,0H1"
                            ]},
                  "legend": {"orient": "none", "legendX": 121, "legendY": -92, "direction": "horizontal", "columns": 9, "title": null,
                             "values": ["福田","罗湖","南山","盐田","龙岗","宝安","大鹏","龙华","坪山"],
                             "labelFont": "Noto Sans CJK SC", "labelFontSize": 23, "labelColor": "#000000", "symbolSize": 3721, "symbolStrokeWidth": 1.9,
                             "columnPadding": 11, "labelOffset": 8, "padding": 0, "symbolFillColor": "transparent"}}
      }
    },
    {
      "data": {"values": [
        {"x": 18.0, "y": 95.9, "t": "Daily maximum of O₃-8h"},
        {"x": 22.1, "y": 87.1, "t": "12-30 : 71"},
        {"x": 22.1, "y": 80.1, "t": "12-31 : 72"},
        {"x": 22.1, "y": 73.1, "t": "1-1 : 70"}
      ]},
      "transform": [],
      "mark": {"type": "text", "align": "left", "baseline": "middle", "font": "DejaVu Sans", "fontSize": 21, "color": "#000000"},
      "encoding": {
        "x": {"field": "x", "type": "quantitative", "scale": {"domain": [0, 79], "nice": false, "zero": false},
              "axis": {"orient": "top", "values": [0,4,8,12,16,20,24,28,32,36,40,44,48,52,56,60,64,68,72,76], "labels": false, "title": null}},
        "y": {"field": "y", "type": "quantitative", "scale": {"domain": [0, 120], "nice": false},
              "axis": {"orient": "right", "values": [0, 40, 80, 120], "labels": false, "title": null}},
        "text": {"field": "t", "type": "nominal"}
      }
    }
  ],
  "resolve": {
    "scale": {"color": "independent", "shape": "independent", "size": "independent"},
    "axis": {"x": "independent", "y": "independent"}
  }
}
